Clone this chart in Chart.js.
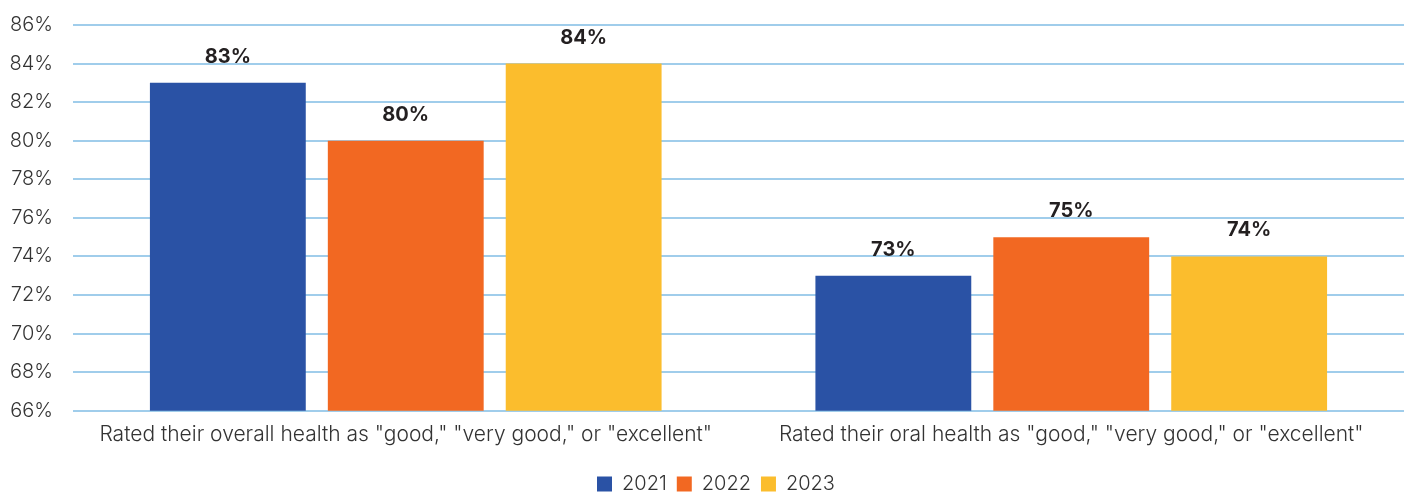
<!DOCTYPE html>
<html>
<head>
<meta charset="utf-8">
<script src="https://cdn.jsdelivr.net/npm/chart.js@4"></script>
<style>
  html, body { margin: 0; padding: 0; background: #fff; }
  #wrap { width: 1410px; height: 495px; }
</style>
</head>
<body>
<div id="wrap"><canvas id="chart"></canvas></div>
<script>
const categories = [
  'Rated their overall health as "good," "very good," or "excellent"',
  'Rated their oral health as "good," "very good," or "excellent"'
];
const years = ['2021', '2022', '2023'];
const values2021 = [83, 73];
const values2022 = [80, 75];
const values2023 = [84, 74];
const yTicks = [66, 68, 70, 72, 74, 76, 78, 80, 82, 84, 86];

const colors = ['#2A52A5', '#F26822', '#FBBD2D'];
const fontFamily = 'Inter, "Noto Sans", sans-serif';

// draws the bold percent labels above each bar
const barLabels = {
  id: 'barLabels',
  afterDatasetsDraw(chart) {
    const ctx = chart.ctx;
    ctx.save();
    ctx.font = '700 20px ' + fontFamily;
    ctx.fillStyle = '#231F20';
    ctx.textAlign = 'center';
    ctx.textBaseline = 'bottom';
    chart.data.datasets.forEach((ds, i) => {
      chart.getDatasetMeta(i).data.forEach((bar, j) => {
        ctx.fillText(ds.data[j] + '%', bar.x, bar.y - 16);
      });
    });
    ctx.restore();
  }
};

// move the legend row to where the original has it
const legendShift = {
  id: 'legendShift',
  afterLayout(chart) {
    const lg = chart.legend;
    const dy = 464 - lg.top;
    lg.top += dy;
    lg.bottom += dy;
    lg.left += 14;
    lg.right += 14;
  }
};

new Chart(document.getElementById('chart'), {
  type: 'bar',
  data: {
    labels: categories,
    datasets: [
      { label: years[0], data: values2021, backgroundColor: colors[0] },
      { label: years[1], data: values2022, backgroundColor: colors[1] },
      { label: years[2], data: values2023, backgroundColor: colors[2] }
    ]
  },
  options: {
    responsive: true,
    maintainAspectRatio: false,
    animation: false,
    datasets: { bar: { categoryPercentage: 0.802, barPercentage: 0.876 } },
    layout: { padding: { top: 0, right: 6, left: 0, bottom: 5 } },
    plugins: {
      legend: {
        position: 'bottom',
        labels: {
          boxWidth: 15, boxHeight: 15, padding: 10,
          color: '#333', font: { family: fontFamily, size: 20, weight: '300' }
        }
      },
      tooltip: { enabled: false }
    },
    scales: {
      x: {
        grid: { display: false },
        border: { display: false },
        ticks: { color: '#333', padding: 3, font: { family: fontFamily, size: 21, weight: '300' } }
      },
      y: {
        min: yTicks[0],
        max: yTicks[yTicks.length - 1],
        afterBuildTicks(scale) { scale.ticks = yTicks.map(v => ({ value: v })); },
        afterFit(scale) { scale.width = 73; },
        grid: { color: '#A0CDEB', lineWidth: 2, drawTicks: false },
        border: { display: false },
        ticks: {
          color: '#333', padding: 20,
          font: { family: fontFamily, size: 20, weight: '300', lineHeight: 0.5 },
          callback: v => v + '%'
        }
      }
    }
  },
  plugins: [barLabels, legendShift]
});
</script>
</body>
</html>
